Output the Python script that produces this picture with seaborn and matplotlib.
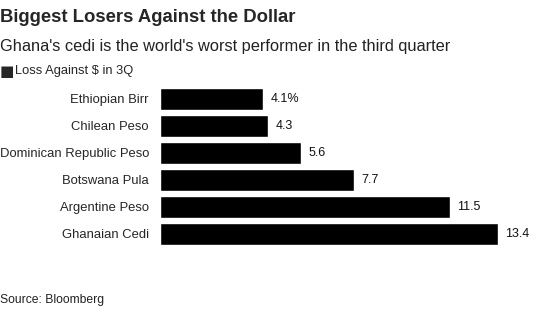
import matplotlib
matplotlib.use("Agg")
import matplotlib.pyplot as plt
import seaborn as sns
import pandas as pd

currencies = ["Ethiopian Birr", "Chilean Peso", "Dominican Republic Peso",
              "Botswana Pula", "Argentine Peso", "Ghanaian Cedi"]
losses = [4.1, 4.3, 5.6, 7.7, 11.5, 13.4]
value_labels = ["4.1%", "4.3", "5.6", "7.7", "11.5", "13.4"]

sns.set_theme(style="white")
plt.rcParams['font.family'] = ['Liberation Sans', 'DejaVu Sans']

df = pd.DataFrame({"currency": currencies, "loss": losses})

fig = plt.figure(figsize=(5.4, 3.24), dpi=100)
ax = fig.add_axes([160/540, 1-247.5/324, 378/540, 162/324])
sns.barplot(data=df, x="loss", y="currency", color="black", width=0.8,
            saturation=1, ax=ax, orient="h")
ax.set_xlim(0, 15)
ax.set_ylim(5.5, -0.5)
for i, (v, lab) in enumerate(zip(losses, value_labels)):
    ax.text(v + 0.3, i, lab, va="center", ha="left", fontsize=9, color="#111111")
ax.set_xlabel("")
ax.set_ylabel("")
ax.set_xticks([])
ax.tick_params(axis="y", length=0, pad=8, labelsize=9.4)
for s in ax.spines.values():
    s.set_visible(False)

fig.text(0.0, 1-18/324, "Biggest Losers Against the Dollar", fontsize=13.3,
         fontweight="bold", va="center", ha="left")
fig.text(0.0, 1-47/324, "Ghana's cedi is the world's worst performer in the third quarter",
         fontsize=11.8, va="center", ha="left", color="#222222")
fig.text(0.0, 1-71/324, "\u25A0", fontsize=11, va="center", ha="left",
         family=['DejaVu Sans'])
fig.text(15/540, 1-71/324, "Loss Against $ in 3Q", fontsize=9.3, va="center", ha="left")
fig.text(0.0, 1-300/324, "Source: Bloomberg", fontsize=8.7, va="center", ha="left",
         color="#222222")

fig.savefig("out.png", dpi=100)
